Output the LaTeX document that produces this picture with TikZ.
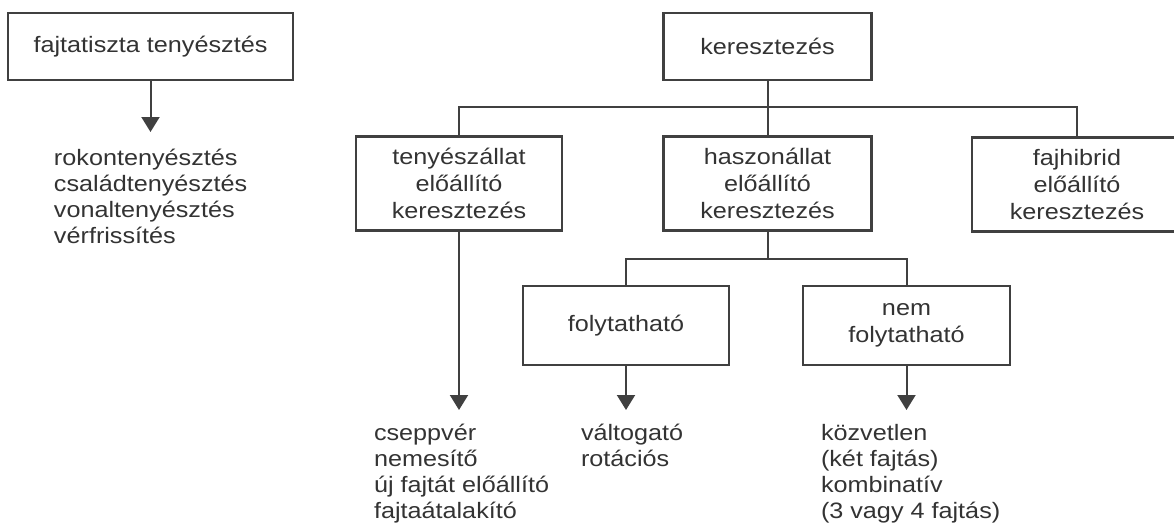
\documentclass[tikz,border=0pt]{standalone}
\usepackage{fontspec}
\setmainfont{Liberation Sans}[FakeStretch=1.13]
\usetikzlibrary{arrows.meta}
\definecolor{vonal}{gray}{0.25}
\definecolor{betu}{gray}{0.2}
\tikzset{
  doboz/.style={draw=vonal, line width=1.2pt, align=center, text=betu,
    inner sep=0pt, font=\fontsize{11.15}{13.5}\selectfont},
  lista/.style={align=left, anchor=north west, inner xsep=0pt, text=betu,
    font=\fontsize{11.15}{13}\selectfont}
}
\begin{document}
\begin{tikzpicture}[>={Triangle[width=9pt,length=7.5pt]}, x=0.5pt, y=-0.5pt, line width=1pt, color=vonal]
		\useasboundingbox (0,0) rectangle (1174,525);
		\node[doboz, minimum width=142.5pt, minimum height=33.5pt] (fajta) at (150.5,46.5) {fajtatiszta tenyésztés};
		\node[doboz, minimum width=104pt, minimum height=33.5pt] (kereszt) at (767.5,46.5) {keresztezés};
		\node[doboz, minimum width=103pt, minimum height=47pt] (tenyesz) at (459,183.5) {tenyészállat\\ előállító\\ keresztezés};
		\node[doboz, minimum width=104pt, minimum height=47pt] (haszon) at (767.5,183.5) {haszonállat\\ előállító\\ keresztezés};
		\node[doboz, minimum width=105pt, minimum height=47pt] (fajhibrid) at (1077,184.5) {fajhibrid\\ előállító\\ keresztezés};
		\node[doboz, minimum width=103pt, minimum height=39.5pt] (folyt) at (626,325.5) {folytatható};
		\node[doboz, minimum width=103.5pt, minimum height=39.5pt] (nemfolyt) at (906.5,325.5) {nem\\ folytatható};
		\node[lista, inner ysep=8.2pt] (rokon) at (53,132) {rokontenyésztés\\ családtenyésztés\\ vonaltenyésztés\\ vérfrissítés};
		\node[lista, inner ysep=6.7pt] (csepp) at (373,410) {cseppvér\\ nemesítő\\ új fajtát előállító\\ fajtaátalakító};
		\node[lista, inner ysep=6.7pt] (valt) at (580,410) {váltogató\\ rotációs};
		\node[lista, inner ysep=6.7pt] (kozv) at (820,410) {közvetlen\\ (két fajtás)\\ kombinatív\\ (3 vagy 4 fajtás)};
		\coordinate (elag1) at (767.5,107);
		\coordinate (elag2) at (767.5,259);
		\draw (kereszt.south) -- (elag1);
		\draw (tenyesz.north) |- (elag1) -| (fajhibrid.north);
		\draw (elag1) -- (haszon.north);
		\draw (haszon.south) -- (elag2);
		\draw (folyt.north) |- (elag2) -| (nemfolyt.north);
		\draw[->] (fajta.south) -- (fajta.south |- rokon.north);
		\draw[->] (tenyesz.south) -- (tenyesz.south |- csepp.north);
		\draw[->] (folyt.south) -- (folyt.south |- valt.north);
		\draw[->] (nemfolyt.south) -- (nemfolyt.south |- kozv.north);
		\end{tikzpicture}
\end{document}
